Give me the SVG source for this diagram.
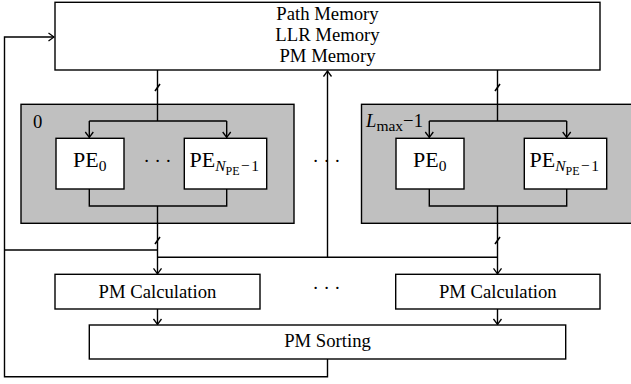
<svg xmlns="http://www.w3.org/2000/svg" width="631" height="384" viewBox="0 0 631 384">
<defs>
<style>
.box{fill:#fff;stroke:#000;stroke-width:1.4}
.grp{fill:#c0c0c0;stroke:#000;stroke-width:1.4}
.ln{fill:none;stroke:#000;stroke-width:1.4}
.sl{fill:none;stroke:#000;stroke-width:1.6}
text{font-family:'Liberation Serif','Times New Roman',Times,'DejaVu Serif',serif;fill:#000}
.t{font-size:18.7px}
.c{text-anchor:middle}
.pe{font-size:22px}
.s1{font-size:15.5px}
.s2{font-size:12px}
.it{font-style:italic}
</style>
<marker id="ah" viewBox="-7 -5 8 10" refX="0" refY="0" markerWidth="8" markerHeight="10" markerUnits="userSpaceOnUse" orient="auto">
<path d="M -5.5 -4 L 0 0 L -5.5 4" fill="none" stroke="#000" stroke-width="1.3"/>
</marker>
</defs>
<rect width="631" height="384" fill="#fff"/>

<g id="group0">
<rect class="grp" x="21" y="104.3" width="273" height="119"/>
<text class="t" x="33" y="128.3">0</text>
</g>
<g id="groupLmax">
<rect class="grp" x="361.5" y="104.3" width="273" height="119"/>
<text class="t" x="366" y="127"><tspan class="it">L</tspan><tspan class="s1" dy="4">max</tspan><tspan dy="-4">−1</tspan></text>
</g>

<g id="connectors">
<path class="ln" d="M327.5 359 V376.7 H4.5 V37 H54" marker-end="url(#ah)"/>
<path class="ln" d="M4.5 250 H157.5"/>
<path class="ln" d="M157.5 257.3 H497.5"/>
<path class="ln" d="M327.5 257.3 V71" marker-end="url(#ah)"/>
<path class="ln" d="M157.5 70 V121 M89.3 121 H226.7"/>
<path class="ln" d="M89.3 121 V137.5" marker-end="url(#ah)"/>
<path class="ln" d="M226.7 121 V137.5" marker-end="url(#ah)"/>
<path class="ln" d="M89.3 189 V206 H226.7 V189"/>
<path class="ln" d="M157.5 206 V273.8" marker-end="url(#ah)"/>
<path class="ln" d="M157.5 309 V324.5" marker-end="url(#ah)"/>
<path class="ln" d="M497.5 70 V121 M429.3 121 H566.7"/>
<path class="ln" d="M429.3 121 V137.5" marker-end="url(#ah)"/>
<path class="ln" d="M566.7 121 V137.5" marker-end="url(#ah)"/>
<path class="ln" d="M429.3 189 V206 H566.7 V189"/>
<path class="ln" d="M497.5 206 V273.8" marker-end="url(#ah)"/>
<path class="ln" d="M497.5 309 V324.5" marker-end="url(#ah)"/>
<path class="sl" d="M155 91 L160 84 M155 244 L160 237 M495 91 L500 84 M495 244 L500 237"/>
</g>

<g id="memory">
<rect class="box" x="55" y="2.3" width="545" height="67.7"/>
<text class="t c" x="327.5" y="19.5">Path Memory</text>
<text class="t c" x="327.5" y="40.5">LLR Memory</text>
<text class="t c" x="327.5" y="61.5">PM Memory</text>
</g>

<g id="pe0_0">
<rect class="box" x="56" y="138.3" width="68" height="50.7"/>
<text class="pe" x="73" y="167">PE<tspan class="s1" dy="4">0</tspan></text>
</g>
<g id="pe0_n">
<rect class="box" x="184.3" y="138.3" width="82.4" height="50.7"/>
<text class="pe" x="189.5" y="167">PE<tspan class="s1 it" dy="4">N</tspan><tspan class="s2" dy="4">PE</tspan><tspan class="s1" dy="-4" dx="1.5">−</tspan><tspan class="s1" dx="1.5">1</tspan></text>
</g>
<g id="pe1_0">
<rect class="box" x="396" y="138.3" width="68" height="50.7"/>
<text class="pe" x="413" y="167">PE<tspan class="s1" dy="4">0</tspan></text>
</g>
<g id="pe1_n">
<rect class="box" x="524.3" y="138.3" width="82.4" height="50.7"/>
<text class="pe" x="529.5" y="167">PE<tspan class="s1 it" dy="4">N</tspan><tspan class="s2" dy="4">PE</tspan><tspan class="s1" dy="-4" dx="1.5">−</tspan><tspan class="s1" dx="1.5">1</tspan></text>
</g>

<g id="dots">
<text class="t c" x="157.5" y="167">· · ·</text>
<text class="t c" x="326.5" y="167">· · ·</text>
<text class="t c" x="326.5" y="294">· · ·</text>
</g>

<g id="calc0">
<rect class="box" x="55" y="274.3" width="205" height="34.7"/>
<text class="t c" x="157.5" y="298.3">PM Calculation</text>
</g>
<g id="calc1">
<rect class="box" x="395.7" y="274.3" width="204.3" height="34.7"/>
<text class="t c" x="497.8" y="298.3">PM Calculation</text>
</g>
<g id="sorting">
<rect class="box" x="89.3" y="325" width="476.4" height="34"/>
<text class="t c" x="327.5" y="346.7">PM Sorting</text>
</g>
</svg>
